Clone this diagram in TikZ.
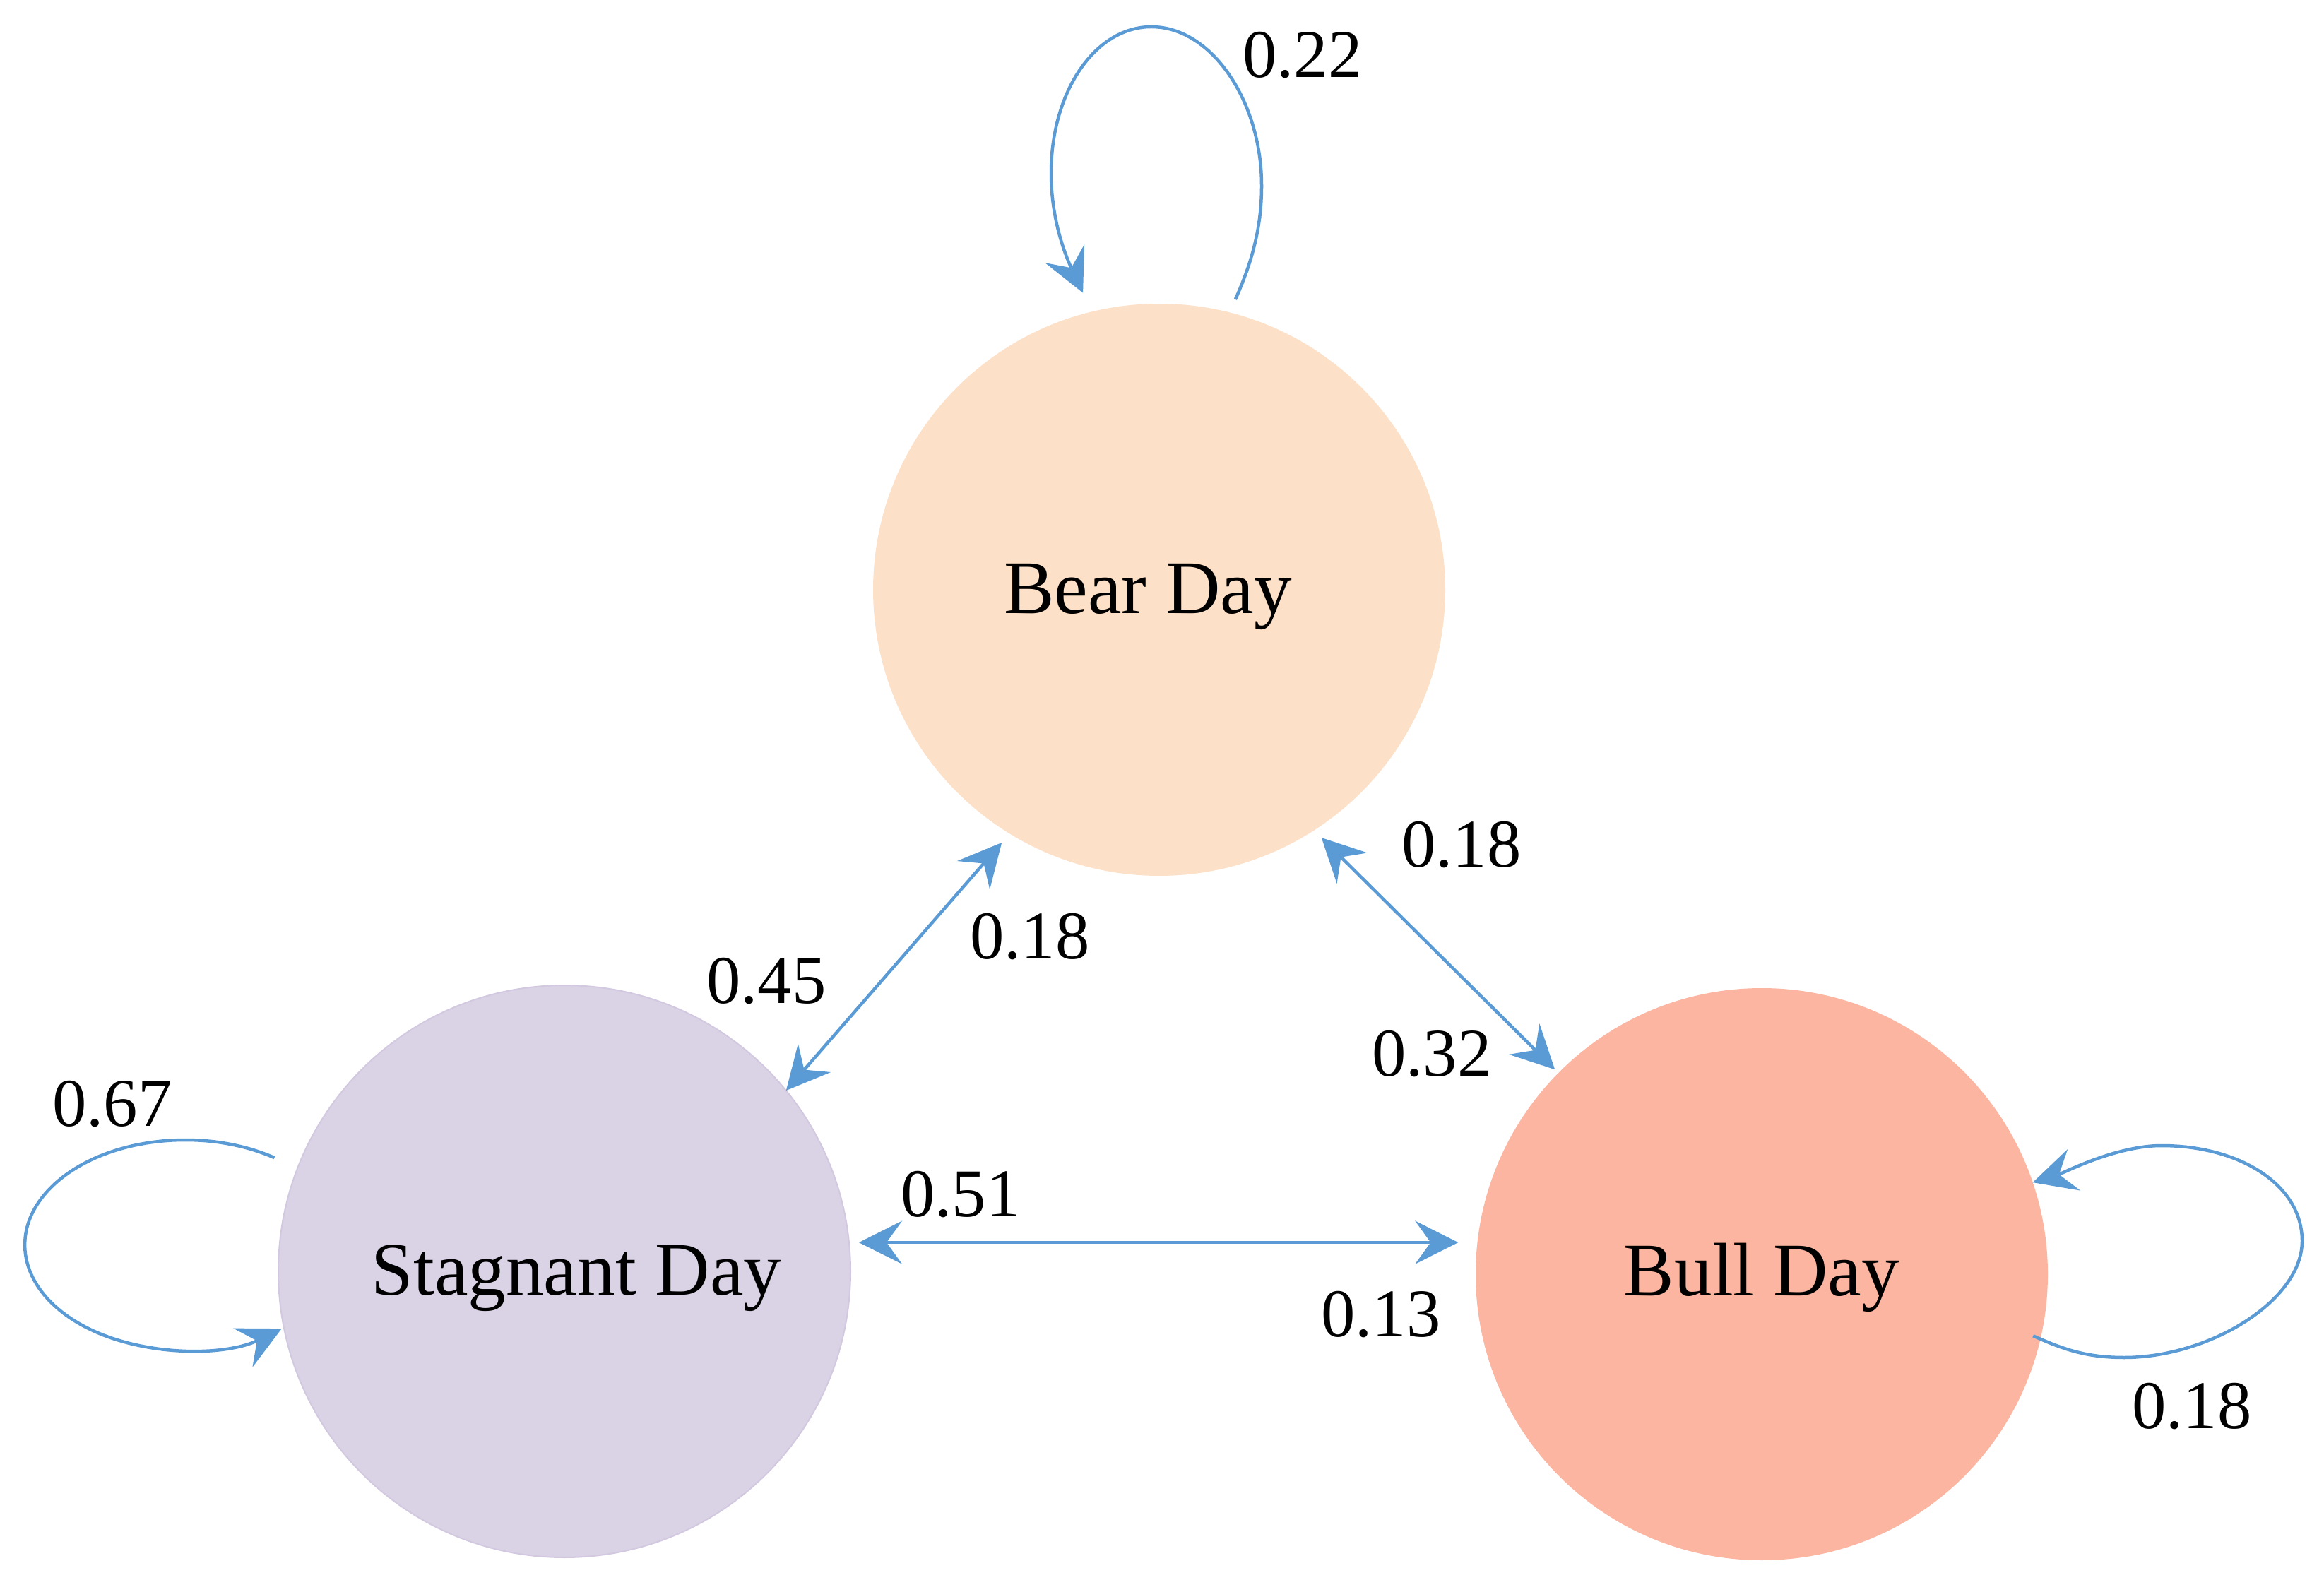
\documentclass[tikz,border=0pt]{standalone}
\usepackage{fontspec}
\setmainfont{Liberation Serif}
\usetikzlibrary{arrows.meta,calc}
\definecolor{bearc}{HTML}{FCE0C8}
\definecolor{stagc}{HTML}{DAD2E5}
\definecolor{stagb}{HTML}{D2C9E0}
\definecolor{bullc}{HTML}{FCB5A1}
\definecolor{arrc}{HTML}{5B9BD5}
\tikzset{
  state/.style={circle, minimum size=8.1cm, inner sep=0pt, outer sep=0pt},
  stext/.style={font=\fontsize{30.5}{36}\selectfont, inner sep=0pt},
  prob/.style={font=\fontsize{27.5}{33}\selectfont, inner sep=0pt},
  link/.style={draw=arrc, line width=0.045cm, >={Stealth[length=0.61cm, width=0.61cm, inset=0.22cm]}, <->},
  loopa/.style={draw=arrc, line width=0.045cm, >={Stealth[length=0.61cm, width=0.61cm, inset=0.22cm]}, ->},
}
\begin{document}
\begin{tikzpicture}
\useasboundingbox (0,0) rectangle (32.9,22.53);
\node[state, fill=bearc] (bear) at (16.41,14.18) {};
\node[state, fill=stagc, draw=stagb, line width=0.02cm] (stag) at (7.99,4.53) {};
\node[state, fill=bullc] (bull) at (24.94,4.49) {};
\node[stext] (beart) at ($(bear)+(-0.16,-0.1)$) {Bear Day};
\node[stext] (stagt) at ($(stag)+(0.17,-0.1)$) {Stagnant Day};
\node[stext] (bullt) at ($(bull)+(0,-0.05)$) {Bull Day};

% links
\coordinate (sb) at ($(stag)+(39.2:4.05)$);
\coordinate (bs) at ($(bear)+(238.1:4.217)$);
\coordinate (bb) at ($(bear)+(303.2:4.196)$);
\coordinate (ub) at ($(bull)+(135.3:4.12)$);
\coordinate (su) at ($(stag)+(5.6:4.19)$);
\coordinate (us) at ($(bull)+(174:4.32)$);
\draw[link] (sb) -- (bs);
\draw[link] (bb) -- (ub);
\draw[link] (su) -- (su -| us);

% self loops
\draw[loopa] ($(bear)+(75.3:4.25)$) .. controls +(66:0.5) and +(-90:0.65) .. (17.86,19.9)
  .. controls +(90:1.2) and +(0:0.85) .. (16.30,22.15)
  .. controls +(180:0.8) and +(90:1.15) .. (14.88,20.08)
  .. controls +(-90:0.75) and +(115:0.45) .. ($(bear)+(104.4:4.34)$);
\draw[loopa] ($(bull)+(-12.8:3.94)$) .. controls +(-24:0.45) and +(180:0.55) .. (30.07,3.31)
  .. controls +(0:1.2) and +(-90:0.85) .. (32.59,4.96)
  .. controls +(90:0.8) and +(0:1.1) .. (30.60,6.31)
  .. controls +(180:0.65) and +(17:0.45) .. ($(bull)+(18.7:4.05)$);
\draw[loopa] ($(stag)+(158.6:4.41)$) arc[start angle=56.2, end angle=307, x radius=2.27, y radius=1.485];

% probabilities
\node[prob] (p1) at (18.44,21.75) {0.22};
\node[prob] (p2) at (20.69,10.57) {0.18};
\node[prob] (p3) at (14.58,9.27) {0.18};
\node[prob] (p4) at (10.85,8.64) {0.45};
\node[prob] (p5) at (20.27,7.61) {0.32};
\node[prob] (p6) at (1.59,6.90) {0.67};
\node[prob] (p7) at (13.60,5.62) {0.51};
\node[prob] (p8) at (19.55,3.92) {0.13};
\node[prob] (p9) at (31.03,2.62) {0.18};
\end{tikzpicture}
\end{document}
